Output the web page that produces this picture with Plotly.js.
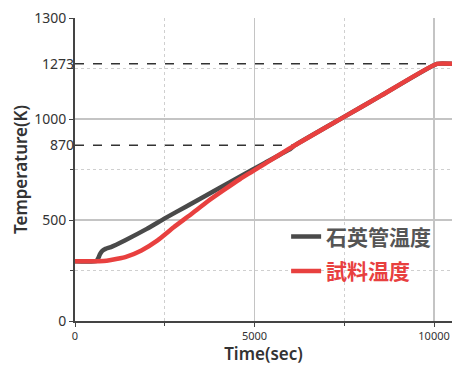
<!DOCTYPE html>
<html>
<head>
<meta charset="utf-8">
<script src="https://cdn.plot.ly/plotly-3.0.1.min.js"></script>
<style>html,body{margin:0;padding:0;background:#fff;}#chart{width:452px;height:365px;}</style>
</head>
<body>
<div id="chart"></div>
<script>
// Quartz tube temperature (石英管温度)
const quartzTime = [0, 600, 650, 700, 760, 850, 1000, 1400, 2000, 2500, 3100, 3700, 4300, 4600, 5300, 6000, 6125, 7470, 8500, 10080, 10500];
const quartzTemp = [296, 297, 312, 332, 347, 357, 366, 400, 456, 508, 567, 626, 686, 716, 784, 852, 870, 1008, 1113, 1273, 1273];
// Sample temperature (試料温度)
const sampleTime = [0, 800, 1000, 1400, 1850, 2300, 2750, 3250, 3700, 4150, 4600, 5250, 6125, 7470, 8500, 10080, 10500];
const sampleTemp = [296, 297, 302, 316, 349, 399, 464, 531, 593, 649, 703, 774, 870, 1008, 1113, 1273, 1273];
// Reference levels (dashed) and where they meet the curve
const refTemps = [870, 1273];
const refEndTimes = [6125, 10080];
// Tick labels
const yMainTickVals = [0, 500, 1000, 1500];
const yMainTickText = ["0", "500", "1000", "1300"];
const yRefTickText = ["870", "1273"];
const xTickVals = [0, 5000, 10000];
const seriesNames = ["石英管温度", "試料温度"];

const gray = "#4a4a4a", red = "#e8403f";
const FONT = "Noto Sans CJK JP, Noto Sans, sans-serif";
const LATIN = "Noto Sans, sans-serif";

const traces = [];
refTemps.forEach((t, i) => {
  traces.push({x: [0, refEndTimes[i]], y: [t, t], mode: "lines", showlegend: false, hoverinfo: "skip",
    line: {color: "#333", width: 1.5, dash: "dash"}});
});
traces.push({x: quartzTime, y: quartzTemp, mode: "lines", name: '<span style="color:#555">' + seriesNames[0] + '</span>',
  legendgroup: "a", line: {color: gray, width: 4.5, shape: "spline", smoothing: 0.4}});
traces.push({x: sampleTime, y: sampleTemp, mode: "lines", name: '<span style="color:' + red + '">' + seriesNames[1] + '</span>',
  legendgroup: "b", line: {color: red, width: 4.5, shape: "spline", smoothing: 0.5}});
// invisible trace to carry the 870/1273 labels on an overlaying axis
traces.push({x: [0, 0], y: refTemps, yaxis: "y2", mode: "markers", marker: {opacity: 0}, showlegend: false, hoverinfo: "skip"});

const layout = {
  width: 452, height: 365,
  margin: {l: 75, r: 0, t: 18, b: 44},
  paper_bgcolor: "#fff", plot_bgcolor: "#fff",
  font: {family: LATIN, color: "#333"},
  showlegend: true,
  legend: {x: 0.56, y: 0.345, xanchor: "left", yanchor: "top", bgcolor: "rgba(0,0,0,0)",
    font: {family: FONT, size: 21, weight: 700}, traceorder: "grouped", tracegroupgap: 4},
  xaxis: {range: [0, 10500], tickmode: "array", tickvals: xTickVals, ticktext: xTickVals.map(String),
    showline: true, linecolor: "#444", linewidth: 2, ticks: "outside", ticklen: 4, tickcolor: "#444",
    showgrid: true, gridcolor: "#c4c4c4", gridwidth: 1.5, zeroline: false,
    tickfont: {family: LATIN, size: 11, color: "#333"},
    minor: {tickvals: [2500, 7500], showgrid: true, gridcolor: "#cfcfcf", griddash: "dot", gridwidth: 1, ticks: "outside", ticklen: 3, tickcolor: "#444"},
    title: {text: "Time(sec)", font: {family: LATIN, size: 17, color: "#333", weight: 600}, standoff: 12}},
  yaxis: {range: [0, 1500], tickmode: "array", tickvals: yMainTickVals, ticktext: yMainTickText,
    showline: true, linecolor: "#444", linewidth: 2, ticks: "outside", ticklen: 4, tickcolor: "#444",
    showgrid: true, gridcolor: "#c4c4c4", gridwidth: 1.5, zeroline: false,
    tickfont: {family: LATIN, size: 14, color: "#333"},
    minor: {tickvals: [250, 750, 1250], showgrid: true, gridcolor: "#cfcfcf", griddash: "dot", gridwidth: 1, ticks: "outside", ticklen: 3, tickcolor: "#444"},
    title: {text: "Temperature(K)", font: {family: LATIN, size: 17, color: "#333", weight: 600}, standoff: 2}},
  yaxis2: {range: [0, 1500], overlaying: "y", side: "left", tickmode: "array", tickvals: refTemps, ticktext: yRefTickText,
    showgrid: false, showline: false, zeroline: false, ticks: "", ticklen: 4, tickfont: {family: LATIN, size: 14, color: "#333"}}
};

Plotly.newPlot("chart", traces, layout, {staticPlot: true, displayModeBar: false});
</script>
</body>
</html>
